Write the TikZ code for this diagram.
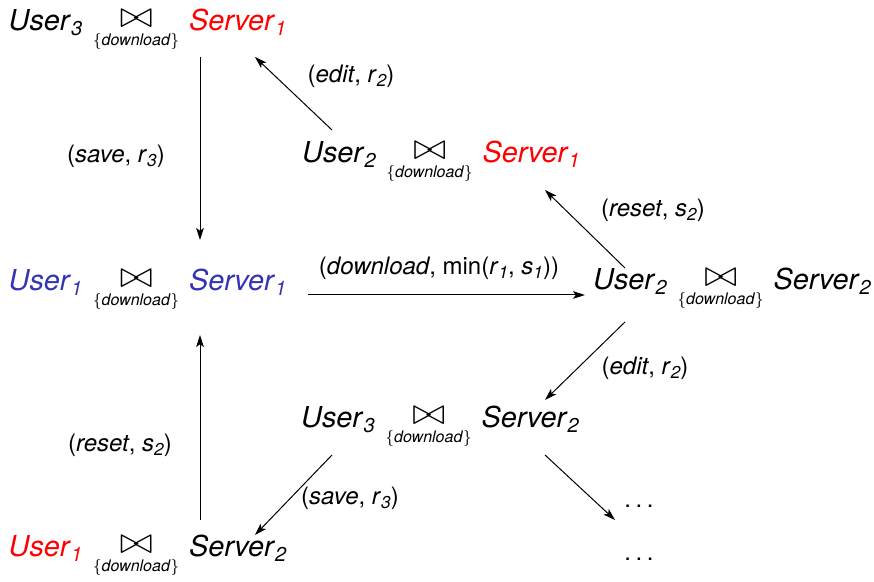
\documentclass[tikz,border=0pt]{standalone}
\usepackage{fontspec}
\setmainfont{TeX Gyre Heros}
\usetikzlibrary{arrows.meta}
\definecolor{myred}{RGB}{255,0,0}
\definecolor{myblue}{RGB}{51,51,179}
\newcommand{\bigsub}[1]{\raisebox{-2.4pt}{\fontsize{10}{11}\selectfont\itshape #1}}
\newcommand{\lblsub}[1]{\raisebox{-2pt}{\fontsize{8.6}{9}\selectfont\itshape #1}}
\newcommand{\joinop}{\hspace{5.5pt}\vtop{\baselineskip=0pt\lineskip=1.2pt\lineskiplimit=0pt
  \halign{\hfil##\hfil\cr
  \raisebox{1.8pt}{\scalebox{1.4}[1.3]{$\bowtie$}}\cr
  \fontsize{8}{9}\selectfont$\{$\textit{download}$\}$\cr}}\hspace{5pt}}
\newcommand{\Usr}[1]{\textit{User}\bigsub{#1}}
\newcommand{\Srv}[1]{\textit{Server}\bigsub{#1}}
\begin{document}
\begin{tikzpicture}[x=0.5pt,y=-0.5pt,
  state/.style={inner sep=0pt, anchor=base, font=\fontsize{14.4}{17}\selectfont},
  lbl/.style={inner sep=0pt, font=\fontsize{12}{14}\selectfont},
  dotsnode/.style={inner sep=0pt, anchor=base, font=\fontsize{12}{14}\selectfont},
  arr/.style={line width=0.5pt, -{Stealth[length=6pt,width=3.8pt,inset=1.4pt]}}]
\useasboundingbox (0,0) rectangle (874,582);
% states
\node[state] (n1) at (147.5,31) {\Usr{3}\joinop\textcolor{myred}{\Srv{1}}};
\node[state] (n2) at (441,163) {\Usr{2}\joinop\textcolor{myred}{\Srv{1}}};
\node[state] (n3) at (147.5,291) {\textcolor{myblue}{\Usr{1}}\joinop\textcolor{myblue}{\Srv{1}}};
\node[state] (n4) at (732,290) {\Usr{2}\joinop\Srv{2}};
\node[state] (n5) at (440,428) {\Usr{3}\joinop\Srv{2}};
\node[state] (n6) at (147.5,557) {\textcolor{myred}{\Usr{1}}\joinop\Srv{2}};
\node[dotsnode] (d1) at (639,508) {.\hspace{2.3pt}.\hspace{2.3pt}.};
\node[dotsnode] (d2) at (639,561) {.\hspace{2.3pt}.\hspace{2.3pt}.};
% connectors
\draw[arr] ([shift={(52.5,26)}]n1.base) -- ([shift={(52.5,-51)}]n3.base);
\draw[arr] ([shift={(-109,-33)}]n2.base) -- ([shift={(107.5,26)}]n1.base);
\draw[arr] ([shift={(-107,-22)}]n4.base) -- ([shift={(104,27)}]n2.base);
\draw[arr] ([shift={(160.5,4)}]n3.base) -- ([shift={(-147,5)}]n4.base);
\draw[arr] ([shift={(-107,32)}]n4.base) -- ([shift={(105,-28)}]n5.base);
\draw[arr] ([shift={(-108,27)}]n5.base) -- ([shift={(107.5,-22)}]n6.base);
\draw[arr] ([shift={(52.5,-37)}]n6.base) -- ([shift={(52.5,44)}]n3.base);
\draw[arr] ([shift={(105,27)}]n5.base) -- ([shift={(-24,-41)}]d2.base);
% labels
\node[lbl] (l1) at (116,156) {(\textit{save}, \textit{r}\lblsub{3})};
\node[lbl] (l2) at (351,76) {(\textit{edit}, \textit{r}\lblsub{2})};
\node[lbl] (l3) at (653,210) {(\textit{reset}, \textit{s}\lblsub{2})};
\node[lbl] (l4) at (439,268) {(\textit{download}, min(\textit{r}\lblsub{1}, \textit{s}\lblsub{1}))};
\node[lbl] (l5) at (645,368) {(\textit{edit}, \textit{r}\lblsub{2})};
\node[lbl] (l6) at (350,498) {(\textit{save}, \textit{r}\lblsub{3})};
\node[lbl] (l7) at (120,445) {(\textit{reset}, \textit{s}\lblsub{2})};
\end{tikzpicture}
\end{document}
